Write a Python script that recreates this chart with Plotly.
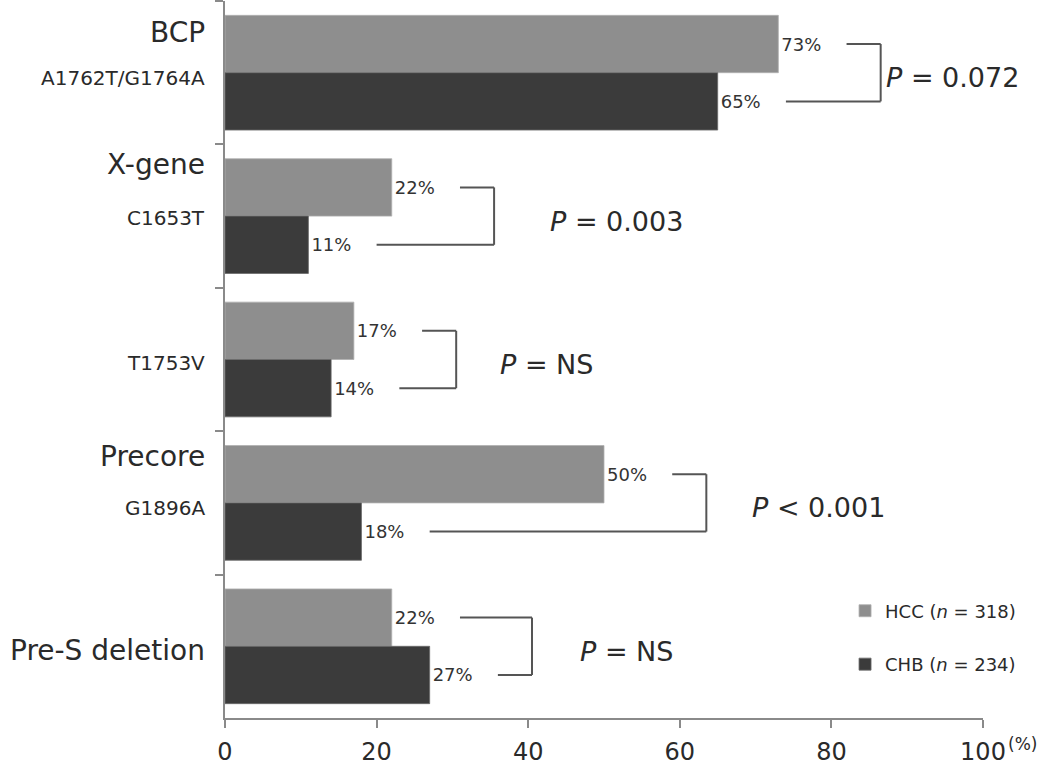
import plotly.graph_objects as go

# ---- data ----
categories = ["BCP", "X-gene", "T1753V", "Precore", "Pre-S deletion"]
main_labels = ["BCP", "X-gene", "", "Precore", "Pre-S deletion"]
sub_labels = ["A1762T/G1764A", "C1653T", "T1753V", "G1896A", ""]
hcc = [73, 22, 17, 50, 22]
chb = [65, 11, 14, 18, 27]
NB = "\u00a0"
p_labels = [f"<i>P</i>{NB}={NB}0.072", f"<i>P</i>{NB}={NB}0.003", f"<i>P</i>{NB}={NB}NS",
            f"<i>P</i>{NB}<{NB}0.001", f"<i>P</i>{NB}={NB}NS"]
x_ticks = [0, 20, 40, 60, 80, 100]
series_names = ["HCC (<i>n</i> = 318)", "CHB (<i>n</i> = 234)"]

# ---- layout helpers (pixel offsets / positions, not data) ----
main_shift = [-40, -52, 0, -46, 4]
sub_shift = [5, 2, 3, 5, 0]
p_x = [87.0, 42.6, 36.0, 69.3, 46.6]
label_gap = 9.0
bracket_ext = 4.5

FONT = "DejaVu Sans"
TXT = "#2a2a2a"
AX = "#8a8a8a"

fig = go.Figure()
fig.add_trace(go.Bar(
    y=categories, x=hcc, orientation="h", name=series_names[0],
    marker=dict(color="#8e8e8e", line=dict(color="#b0b0b0", width=0.8)),
    text=[f"{v}%" for v in hcc], textposition="outside",
    textfont=dict(family=FONT, size=18, color="#333333"),
    constraintext="none", cliponaxis=False, legendgroup="a",
))
fig.add_trace(go.Bar(
    y=categories, x=chb, orientation="h", name=series_names[1],
    marker=dict(color="#3b3b3b", line=dict(color="#6a6a6a", width=0.8)),
    text=[f"{v}%" for v in chb], textposition="outside",
    textfont=dict(family=FONT, size=18, color="#333333"),
    constraintext="none", cliponaxis=False, legendgroup="b",
))

shapes = []
annotations = []
for i, cat in enumerate(categories):
    top_start = hcc[i] + label_gap
    bot_start = chb[i] + label_gap
    right = max(top_start, bot_start) + bracket_ext
    y_top = i - 0.2
    y_bot = i + 0.2
    line = dict(color="#555555", width=2)
    shapes.append(dict(type="line", xref="x", yref="y", x0=top_start, x1=right,
                       y0=y_top, y1=y_top, line=line))
    shapes.append(dict(type="line", xref="x", yref="y", x0=right, x1=right,
                       y0=y_top, y1=y_bot, line=line))
    shapes.append(dict(type="line", xref="x", yref="y", x0=bot_start, x1=right,
                       y0=y_bot, y1=y_bot, line=line))
    annotations.append(dict(x=p_x[i], y=i, xref="x", yref="y", text=p_labels[i],
                            showarrow=False, xanchor="left", yanchor="middle",
                            yshift=-5,
                            font=dict(family=FONT, size=27, color=TXT)))
    if main_labels[i]:
        annotations.append(dict(x=0, y=i, xref="paper", yref="y",
                                text=main_labels[i], showarrow=False,
                                xanchor="right", yanchor="middle",
                                xshift=-18, yshift=-main_shift[i],
                                font=dict(family=FONT, size=28, color=TXT)))
    if sub_labels[i]:
        annotations.append(dict(x=0, y=i, xref="paper", yref="y",
                                text=sub_labels[i], showarrow=False,
                                xanchor="right", yanchor="middle",
                                xshift=-18, yshift=-sub_shift[i],
                                font=dict(family=FONT, size=20, color=TXT)))

annotations.append(dict(x=1, y=0, xref="paper", yref="paper", text="(%)",
                        showarrow=False, xanchor="left", yanchor="middle",
                        xshift=23, yshift=-26,
                        font=dict(family=FONT, size=17, color=TXT)))

fig.update_layout(
    width=1050, height=765,
    margin=dict(l=225, r=67, t=1, b=47),
    paper_bgcolor="white", plot_bgcolor="white",
    barmode="group", bargap=0.2, bargroupgap=0,
    showlegend=True,
    legend=dict(x=0.818, y=0.175, xanchor="left", yanchor="top",
                font=dict(family=FONT, size=18, color=TXT),
                bgcolor="rgba(0,0,0,0)", tracegroupgap=27,
                traceorder="grouped"),
    shapes=shapes, annotations=annotations,
    xaxis=dict(range=[0, 100], tickvals=x_ticks, ticks="outside", ticklen=8,
               tickcolor=AX, tickwidth=1.5, showline=True, linecolor=AX,
               linewidth=1.5, showgrid=False, zeroline=False,
               ticklabelstandoff=3, automargin=False,
               tickfont=dict(family=FONT, size=24, color=TXT)),
    yaxis=dict(autorange="reversed", showticklabels=False, ticks="outside",
               tickson="boundaries", ticklen=8, tickcolor=AX, tickwidth=1.5,
               showline=True, linecolor=AX, linewidth=1.5, showgrid=False,
               zeroline=False, automargin=False),
)

fig.write_html("out.html", config={"displayModeBar": False},
               post_script="document.body.style.margin='0px';")
